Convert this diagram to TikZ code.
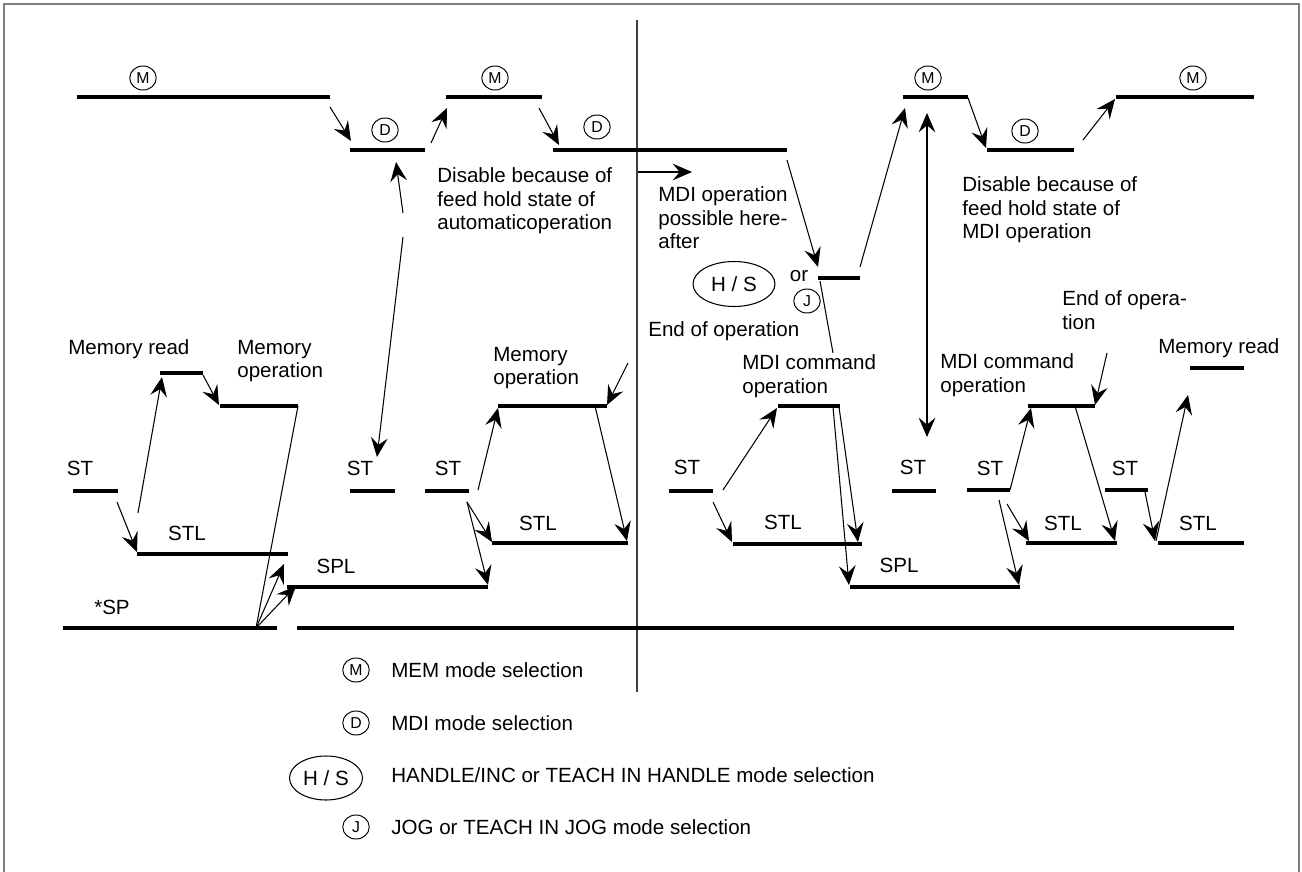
\documentclass[tikz,border=0pt]{standalone}
\usepackage{fontspec}
\setmainfont{Liberation Sans}
\usetikzlibrary{arrows.meta,shapes.geometric}

\begin{document}
\begin{tikzpicture}[x=0.02cm,y=-0.02cm,
  lvl/.style={line width=2.3pt},
  arr/.style={-{Stealth[length=11pt,width=9.5pt,inset=4pt]},line width=0.6pt},
  dbl/.style={{Stealth[length=11pt,width=9.5pt,inset=4pt]}-{Stealth[length=11pt,width=9.5pt,inset=4pt]},line width=0.6pt},
  txt/.style={font=\fontsize{11.7}{13.4}\selectfont,inner sep=0pt,align=left},
  lbl/.style={txt,anchor=west},
  mode/.style={draw,ellipse,line width=0.55pt,minimum width=0.53cm,minimum height=0.48cm,
               inner sep=0pt,font=\fontsize{9}{9}\selectfont},
  hsmode/.style={draw,ellipse,line width=0.6pt,minimum width=1.64cm,minimum height=0.9cm,
                 inner sep=0pt,font=\fontsize{11.7}{13.4}\selectfont}
]
\useasboundingbox (0,0) rectangle (1302,872);
\draw[gray,line width=1.1pt] (4,872) -- (4,4) -- (1299,4) -- (1299,872);
\draw[black!75,line width=0.8pt] (637,20) -- (637,692);

% signal levels
\foreach \n/\xa/\xb/\y in {
  m1/77/330/97, d1/350/425/150, m2/446/542/97, d2/553/787/150,
  m3/903/968/97, d3/987/1074/150, m4/1116/1254/97, hsl/818/860/278,
  rd1/160/203/373, op1/220/298/406, st1/73/118/491, stl1/137/288/554,
  spl1/287/488/587, sp1/63/277/628, sp2/297/1234/628,
  st2/350/395/491, st3/425/469/491, op2/498/607/406, stl2/492/628/543,
  st4/669/713/491, cmd1/778/840/406, stl3/733/862/544, spl2/850/1020/587,
  st5/892/936/491, st6/967/1010/490, cmd2/1028/1095/406, stl4/1026/1117/543,
  st7/1105/1148/490, stl5/1158/1244/543, rd2/1190/1244/368}{
  \coordinate (\n-w) at (\xa,\y);
  \coordinate (\n-e) at (\xb,\y);
  \draw[lvl] (\n-w) -- (\n-e);
}

% transitions
\foreach \a/\b/\c/\d [count=\i] in {
  330/107/351/141, 431/143/447/108, 539/108/559/145, 638/172/692/172,
  787/160/818/267, 860/267/905/108, 968/98/986/148, 1083/140/1115/99,
  403/213/396/162, 403/237/377/457,
  138/513/162/377, 203/375/219/405, 117/502/137/552,
  256/628/284/564, 256/628/296/586,
  478/490/498/408, 628/363/607/405, 595/406/627/541,
  467/502/492/542, 467/502/488/585,
  723/490/777/408, 713/502/732/542, 839/407/858/542, 833/407/849/585,
  1107/353/1095/405, 1010/490/1031/408, 1007/504/1029/541, 999/500/1019/585,
  1075/406/1115/541, 1145/492/1155/541, 1156/541/1188/395}{
  \coordinate (s\i) at (\a,\b);
  \coordinate (t\i) at (\c,\d);
  \draw[arr] (s\i) -- (t\i);
}
\coordinate (spx) at (256,628);
\draw[line width=0.6pt] (op1-e) -- (spx);
\coordinate (eo) at (833,353);
\draw[line width=0.6pt] (820,281) coordinate (hsd) -- (eo);
\coordinate (hdt) at (927,113);
\coordinate (hdb) at (927,437);
\draw[dbl] (hdb) -- (hdt);

% mode marks
\node[mode] (cm1) at (143,78) {M};
\node[mode] (cm2) at (495,78) {M};
\node[mode] (cm3) at (928,78) {M};
\node[mode] (cm4) at (1193,78) {M};
\node[mode] (cd1) at (385,130) {D};
\node[mode] (cd2) at (597,127) {D};
\node[mode] (cd3) at (1025,131) {D};
\node[hsmode] (chs) at (734,284) {H / S};
\node[txt] (or) at (799,276) {or};
\node[mode] (cj) at (807,301) {J};

% texts
\node[lbl] (dis1) at (437,201) {Disable because of\\feed hold state of\\automaticoperation};
\node[lbl] (mdip) at (658,218) {MDI operation\\possible here-\\after};
\node[lbl] (dis2) at (962,210) {Disable because of\\feed hold state of\\MDI operation};
\node[lbl] (eop1) at (648,331) {End of operation};
\node[lbl] (cmdt1) at (742,376) {MDI command\\operation};
\node[lbl] (cmdt2) at (940,375) {MDI command\\operation};
\node[lbl] (eop2) at (1062,310) {End of opera-\\tion};
\node[lbl] (rdt1) at (68,349) {Memory read};
\node[lbl] (rdt2) at (1158,348) {Memory read};
\node[lbl] (opt1) at (237,361) {Memory\\operation};
\node[lbl] (opt2) at (493,368) {Memory\\operation};
\node[txt] (stt1) at (80,468) {ST};
\node[txt] (stt2) at (360,468) {ST};
\node[txt] (stt3) at (448,468) {ST};
\node[txt] (stt4) at (687,467) {ST};
\node[txt] (stt5) at (913,467) {ST};
\node[txt] (stt6) at (990,468) {ST};
\node[txt] (stt7) at (1125,468) {ST};
\node[txt] (stlt1) at (187,533) {STL};
\node[txt] (stlt2) at (538,523) {STL};
\node[txt] (stlt3) at (783,522) {STL};
\node[txt] (stlt4) at (1063,523) {STL};
\node[txt] (stlt5) at (1198,523) {STL};
\node[txt] (splt1) at (336,566) {SPL};
\node[txt] (splt2) at (899,565) {SPL};
\node[txt] (spt) at (112,607) {*SP};

% legend
\node[mode] (km) at (356,670) {M};
\node[lbl] (kmt) at (391,670) {MEM mode selection};
\node[mode] (kd) at (356,723) {D};
\node[lbl] (kdt) at (391,723) {MDI mode selection};
\node[hsmode,minimum width=1.46cm,minimum height=0.88cm] (khs) at (326,778) {H / S};
\node[lbl] (khst) at (391,775) {HANDLE/INC or TEACH IN HANDLE mode selection};
\node[mode] (kj) at (356,827) {J};
\node[lbl] (kjt) at (391,827) {JOG or TEACH IN JOG mode selection};
\end{tikzpicture}
\end{document}
